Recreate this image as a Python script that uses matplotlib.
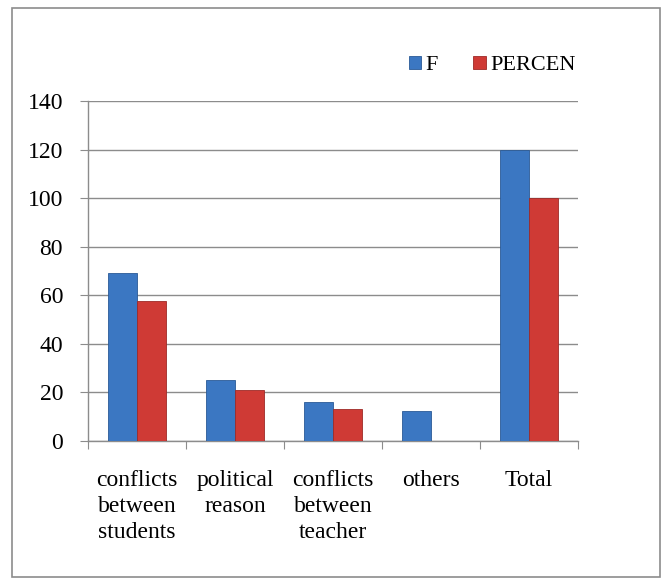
import matplotlib
matplotlib.use("Agg")
import matplotlib.pyplot as plt
import numpy as np
from matplotlib.patches import Rectangle

categories = ["conflicts\nbetween\nstudents", "political\nreason", "conflicts\nbetween\nteacher", "others", "Total"]
series_names = ["F", "PERCEN"]
f_values = [69, 25, 16, 12.5, 120]
percen_values = [57.5, 20.8, 13.3, 0, 100]
yticks = [0, 20, 40, 60, 80, 100, 120, 140]

plt.rcParams['font.family'] = ['Liberation Serif', 'DejaVu Serif']

fig = plt.figure(figsize=(6.68, 5.82), dpi=100)
ax = fig.add_axes([88/668, 1-441/582, 490/668, 340/582])

x = np.arange(len(categories))
w = 0.3
blue = "#3B77C2"
red = "#CF3A35"
ax.bar(x - w/2, f_values, width=w, color=blue, edgecolor="#2A5A96", linewidth=0.6, label=series_names[0], zorder=3)
ax.bar(x + w/2, percen_values, width=w, color=red, edgecolor="#9E2A27", linewidth=0.6, label=series_names[1], zorder=3)

ax.set_xlim(-0.5, len(categories) - 0.5)
ax.set_ylim(0, 140)
ax.set_yticks(yticks)
ax.set_yticklabels([str(v) for v in yticks], fontsize=17)
ax.yaxis.grid(True, color="#8c8c8c", linewidth=1.0, zorder=0)
ax.set_axisbelow(True)

ax.set_xticks(np.arange(-0.5, len(categories), 1.0))
ax.set_xticklabels([])
ax.set_xticks(x, minor=True)
ax.set_xticklabels(categories, minor=True, fontsize=17, linespacing=1.3, va='top')
ax.tick_params(axis='x', which='minor', length=0, pad=21)
ax.tick_params(axis='x', which='major', length=6, color="#8c8c8c", direction='out')
ax.tick_params(axis='y', length=6, color="#8c8c8c", direction='out', pad=12)

for s in ["top", "right"]:
    ax.spines[s].set_visible(False)
for s in ["left", "bottom"]:
    ax.spines[s].set_color("#8c8c8c")
    ax.spines[s].set_linewidth(1.0)

leg = ax.legend(loc='upper right', bbox_to_anchor=(591/668, 1-40/582), bbox_transform=fig.transFigure,
                ncol=2, frameon=False, fontsize=16, handlelength=0.55, handleheight=0.55,
                handletextpad=0.2, columnspacing=1.6, borderpad=0.2)

fig.patches.append(Rectangle((12/668, 1-577/582), 648/668, 569/582, transform=fig.transFigure,
                             fill=False, edgecolor="#8c8c8c", linewidth=1.2))

fig.savefig("out.png", dpi=100)
